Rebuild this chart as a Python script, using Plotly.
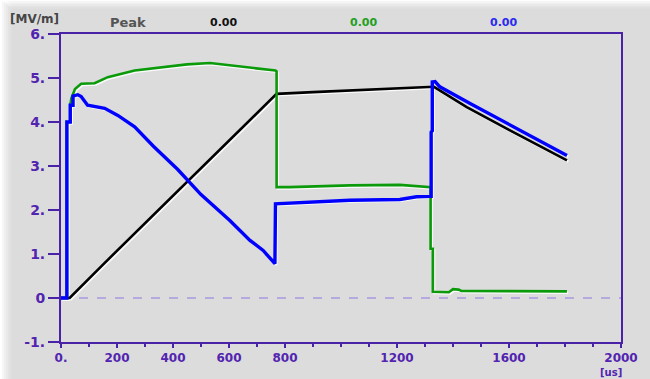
import plotly.graph_objects as go

# Time axis [us] and field values [MV/m] for the three probe traces
black_t = [0, 31, 150, 300, 455, 600, 700, 770, 900, 1032, 1200, 1324, 1332, 1449, 1600, 1807]
black_v = [0, 0, 0.76, 1.70, 2.68, 3.58, 4.20, 4.64, 4.68, 4.72, 4.77, 4.80, 4.80, 4.34, 3.82, 3.13]

green_t = [0, 21, 21, 33, 33, 37, 50, 72, 120, 167, 263, 353, 450, 532, 638, 700, 766, 770, 770, 817,
           1032, 1210, 1318, 1320, 1320, 1328, 1328, 1371, 1385, 1400, 1420, 1430, 1600, 1807]
green_v = [0, 0, 4.00, 4.00, 4.38, 4.54, 4.75, 4.87, 4.88, 5.02, 5.17, 5.24, 5.31, 5.34, 5.27, 5.22, 5.17, 5.15, 2.52, 2.52,
           2.56, 2.57, 2.53, 2.52, 1.12, 1.12, 0.14, 0.14, 0.13, 0.20, 0.19, 0.16, 0.16, 0.15]

blue_t = [0, 21, 21, 33, 33, 43, 43, 60, 72, 95, 156, 203, 263, 330, 417, 500, 603, 675, 722, 764,
          766, 877, 1032, 1210, 1270, 1322, 1322, 1326, 1326, 1336, 1353, 1461, 1568, 1807]
blue_v = [0, 0, 4.00, 4.00, 4.38, 4.38, 4.59, 4.62, 4.58, 4.38, 4.31, 4.15, 3.89, 3.45, 2.92, 2.35, 1.76, 1.31, 1.08, 0.78,
          2.14, 2.18, 2.22, 2.24, 2.30, 2.31, 3.77, 3.80, 4.91, 4.92, 4.80, 4.42, 4.05, 3.24]

peak_labels = ["0.00", "0.00", "0.00"]
peak_colors = ["#111111", "#22a022", "#2a2af0"]

x_ticks = [0, 200, 400, 600, 800, 1200, 1600, 2000]
x_ticktext = ["0.", "200", "400", "600", "800", "1200", "1600", "2000"]
y_ticks = [-1, 0, 1, 2, 3, 4, 5, 6]
y_ticktext = ["-1.", "0", "1.", "2.", "3.", "4.", "5.", "6."]

AX = "#4a22a8"
TXT = "#5224b0"
BG = "#dcdcdc"
FONT = "DejaVu Sans"

W, H = 650, 379
ML, MR, MT, MB = 61, 29, 34, 37
PW, PH = W - ML - MR, H - MT - MB
XR, YR = (0, 2000), (-1, 6)


def px_x(px):
    return (px - ML) / PW


def px_y(py):
    return (H - MB - py) / PH


fig = go.Figure()

# soft white relief under each trace, shifted slightly down and right
sx = 1.3 * (XR[1] - XR[0]) / PW
sy = 1.3 * (YR[1] - YR[0]) / PH
for t, v in [(black_t, black_v), (green_t, green_v), (blue_t, blue_v)]:
    fig.add_trace(go.Scatter(x=[a + sx for a in t], y=[b - sy for b in v], mode="lines",
                             line=dict(color="rgba(255,255,255,0.85)", width=2.5),
                             hoverinfo="skip", showlegend=False))

fig.add_trace(go.Scatter(x=black_t, y=black_v, mode="lines",
                         line=dict(color="#000000", width=2.6), showlegend=False))
fig.add_trace(go.Scatter(x=green_t, y=green_v, mode="lines",
                         line=dict(color="#0a9a0a", width=2.6), showlegend=False))
fig.add_trace(go.Scatter(x=blue_t, y=blue_v, mode="lines",
                         line=dict(color="#0000ff", width=3.4), showlegend=False))

shapes = [
    dict(type="line", xref="paper", yref="y", x0=0, x1=1, y0=0, y1=0,
         line=dict(color="#a898e0", width=1.5, dash="dash"), layer="below"),
]
# faint white fade along the top and left edges of the canvas
for i, op in enumerate([0.95, 0.75, 0.55, 0.38, 0.22, 0.1]):
    shapes.append(dict(type="rect", xref="paper", yref="paper",
                       x0=px_x(i * 2), x1=px_x(i * 2 + 2), y0=px_y(H), y1=px_y(0),
                       fillcolor=f"rgba(255,255,255,{op})", line=dict(width=0), layer="above"))
    shapes.append(dict(type="rect", xref="paper", yref="paper",
                       x0=px_x(i * 2 + 2), x1=px_x(W), y0=px_y(i * 1.5 + 1.5), y1=px_y(i * 1.5),
                       fillcolor=f"rgba(255,255,255,{op})", line=dict(width=0), layer="above"))

annotations = [
    dict(text="[MV/m]", x=px_x(8), y=px_y(19), xref="paper", yref="paper", xanchor="left",
         yanchor="middle", showarrow=False, font=dict(family=FONT, size=12, color="#454545", weight="bold")),
    dict(text="Peak", x=px_x(108), y=px_y(22), xref="paper", yref="paper", xanchor="left",
         yanchor="middle", showarrow=False, font=dict(family=FONT, size=13, color="#555555", weight="bold")),
    dict(text="[us]", x=px_x(623), y=px_y(379), xref="paper", yref="paper", xanchor="right",
         yanchor="bottom", showarrow=False, borderpad=0,
         font=dict(family=FONT, size=10, color=TXT, weight="bold")),
]
for lbl, col, xpx in zip(peak_labels, peak_colors, [208, 348, 488]):
    annotations.append(dict(text=lbl, x=px_x(xpx), y=px_y(22), xref="paper", yref="paper",
                            xanchor="left", yanchor="middle", showarrow=False,
                            font=dict(family=FONT, size=11, color=col, weight="bold")))

fig.update_layout(
    width=W, height=H,
    margin=dict(l=ML, r=MR, t=MT, b=MB, pad=0),
    paper_bgcolor=BG, plot_bgcolor=BG,
    shapes=shapes, annotations=annotations,
    xaxis=dict(range=list(XR), tickmode="array", tickvals=x_ticks, ticktext=x_ticktext,
               showgrid=False, zeroline=False, showline=True, linecolor=AX, linewidth=2,
               mirror=True, ticks="outside", ticklen=4, tickwidth=2, tickcolor=AX,
               tickfont=dict(family=FONT, size=12, color=TXT, weight="bold"),
               minor=dict(dtick=100, tick0=0, ticks="outside", ticklen=3, tickwidth=2,
                          tickcolor=AX, showgrid=False)),
    yaxis=dict(range=list(YR), tickmode="array", tickvals=y_ticks, ticktext=y_ticktext,
               showgrid=False, zeroline=False, showline=True, linecolor=AX, linewidth=2,
               mirror=True, ticks="outside", ticklen=11, tickwidth=2, tickcolor=AX,
               tickfont=dict(family=FONT, size=14, color=TXT, weight="bold")),
)

fig.write_html("out.html")
